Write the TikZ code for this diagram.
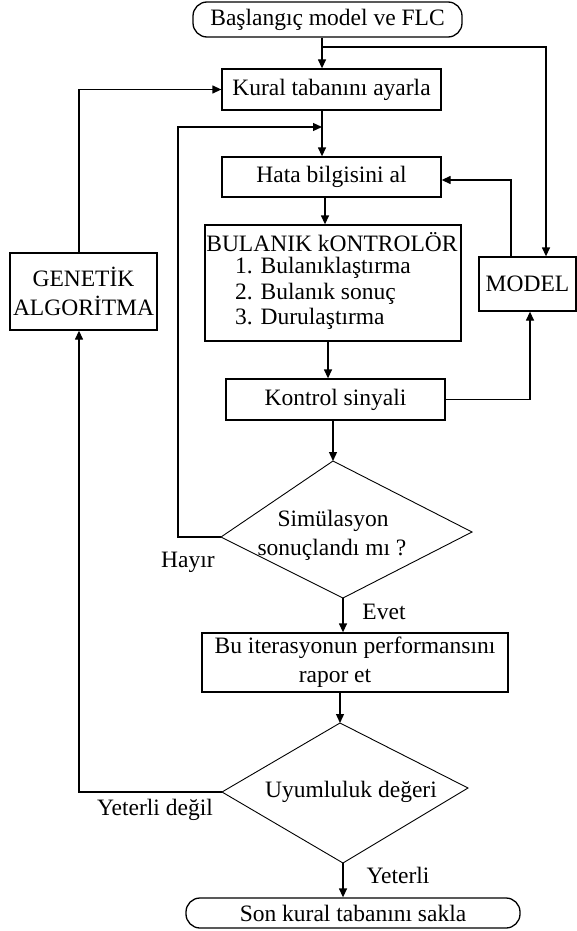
\documentclass[tikz,border=0pt]{standalone}
\usepackage{fontspec}
\setmainfont{Liberation Serif}
\usetikzlibrary{arrows.meta,calc}
\newcommand{\fs}{\fontsize{23.5}{29}\selectfont}
\begin{document}
\begin{tikzpicture}[x=1pt,y=-1pt,
  box/.style={draw, line width=1.3pt, inner sep=0pt, font=\fs, align=center},
  term/.style={box, rounded corners=14pt},
  lbl/.style={inner sep=0pt, font=\fs},
  ln/.style={line width=1.3pt},
  arr/.style={line width=1.3pt, -{Triangle[length=9pt,width=8pt]}},
  dia/.style={line width=0.9pt, line join=miter}]
\useasboundingbox (0,0) rectangle (577,931);
% nodes
\node[term, minimum width=269pt, minimum height=35pt] (start) at (327.5,19.5) {Başlangıç model ve FLC};
\node[box, minimum width=219pt, minimum height=41pt] (kural) at (331.5,89.5) {Kural tabanını ayarla};
\node[box, minimum width=219pt, minimum height=40pt] (hata) at (331.5,177) {Hata bilgisini al};
\node[box, minimum width=256pt, minimum height=116pt] (bul) at (333,283) {};
\node[lbl] (bul1) at (332,242) {BULANIK kONTROLÖR};
\node[lbl, anchor=west] (bul2) at (235,268) {1. Bulanıklaştırma};
\node[lbl, anchor=west] (bul3) at (235,294) {2. Bulanık sonuç};
\node[lbl, anchor=west] (bul4) at (235,319) {3. Durulaştırma};
\node[box, minimum width=219pt, minimum height=41pt] (kontrol) at (335.5,399.5) {Kontrol sinyali};
\node[box, minimum width=97pt, minimum height=54pt] (model) at (527.5,284) {MODEL};
\node[box, minimum width=147pt, minimum height=77pt] (ga) at (83.5,291.5) {GENETİK\\ALGORİTMA};
\node[box, minimum width=306pt, minimum height=59pt] (bu) at (355,662.5) {Bu iterasyonun performansını\\rapor et\hspace*{40pt}};
\node[term, minimum width=334pt, minimum height=30pt] (son) at (353,913) {Son kural tabanını sakla};
% diamonds
\coordinate (d1t) at (333,461);
\coordinate (d1l) at (221,537);
\coordinate (d1r) at (472,532);
\coordinate (d1b) at (343,598);
\draw[dia] (d1t) -- (d1r) -- (d1b) -- (d1l) -- cycle;
\node[lbl] (d1a) at (333,521) {Simülasyon};
\node[lbl] (d1c) at (332,550) {sonuçlandı mı ?};
\coordinate (d2t) at (340,723);
\coordinate (d2l) at (222,792);
\coordinate (d2r) at (468,788);
\coordinate (d2b) at (343,863);
\draw[dia] (d2t) -- (d2r) -- (d2b) -- (d2l) -- cycle;
\node[lbl] (d2a) at (351,792) {Uyumluluk değeri};
% helper x positions
\coordinate (c1) at (322,0);
\coordinate (c2) at (325,0);
\coordinate (c3) at (328,0);
\coordinate (j1) at (322,47);
\coordinate (j2) at (322,127);
\coordinate (m1) at (546,0);
\coordinate (m2) at (511,0);
\coordinate (m3) at (530,0);
\coordinate (gx) at (79,0);
\coordinate (lx) at (178,0);
% connectors
\draw[arr] (start.south -| c1) -- (kural.north -| c1);
\draw[arr] (j1) -| (model.north -| m1);
\draw[arr] (ga.north -| gx) |- (kural.west);
\draw[arr] (kural.south -| c1) -- (hata.north -| c1);
\draw[arr] (d1l) -- (d1l -| lx) |- (j2);
\draw[arr] (hata.south -| c2) -- (bul.north -| c2);
\draw[arr] (model.north -| m2) |- ([yshift=-3pt]hata.east);
\draw[arr] (bul.south -| c3) -- (kontrol.north -| c3);
\draw[arr] (kontrol.east) -| (model.south -| m3);
\draw[arr] (kontrol.south -| d1t) -- (d1t);
\draw[arr] (d1b) -- (bu.north -| d1b);
\draw[arr] (bu.south -| d2t) -- (d2t);
\draw[arr] (d2l) -| (ga.south -| gx);
\draw[arr] (d2b) -- (son.north -| d2b);
% labels
\node[lbl] (hayir) at (188,562) {Hayır};
\node[lbl] (evet) at (384,612) {Evet};
\node[lbl] (yd) at (155,810) {Yeterli değil};
\node[lbl] (yet) at (398,875) {Yeterli};
\end{tikzpicture}
\end{document}
